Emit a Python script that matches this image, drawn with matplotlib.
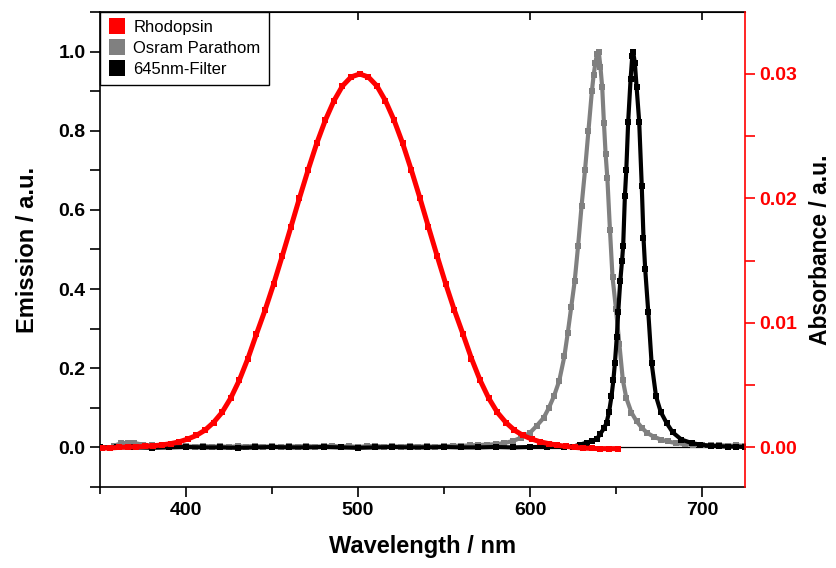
import numpy as np
import matplotlib
matplotlib.use('Agg')
import matplotlib.pyplot as plt
from matplotlib.lines import Line2D
from matplotlib.ticker import MultipleLocator, FormatStrFormatter

plt.rcParams['font.family'] = ['Liberation Sans', 'DejaVu Sans']
plt.rcParams['font.weight'] = 'bold'

# Rhodopsin absorbance (right axis), 351..651 nm every 5 nm
rhodo_nm = np.arange(351, 652, 5)
rhodo_abs = [-0.00006, -0.00004, 0.00000, 0.00003, 0.00005, 0.00008, 0.00013, 0.00020,
             0.00030, 0.00045, 0.00067, 0.00096, 0.00138, 0.00200, 0.00282, 0.00396,
             0.00540, 0.00714, 0.00912, 0.01104, 0.01314, 0.01539, 0.01770, 0.02004,
             0.02229, 0.02442, 0.02628, 0.02784, 0.02904, 0.02976, 0.03000,
             0.02976, 0.02904, 0.02784, 0.02628, 0.02442, 0.02229, 0.02004, 0.01770,
             0.01539, 0.01314, 0.01104, 0.00912, 0.00714, 0.00540, 0.00396, 0.00282,
             0.00200, 0.00138, 0.00096, 0.00067, 0.00045, 0.00030, 0.00018, 0.00008,
             0.00000, -0.00005, -0.00008, -0.00010, -0.00010, -0.00010]

# Osram Parathom emission (left axis)
osram_nm = [358, 362, 366, 370, 375, 380, 385, 390, 395, 400, 405, 410, 415, 420, 425,
            430, 435, 440, 445, 450, 455, 460, 465, 470, 475, 480, 485, 490, 495, 500,
            505, 510, 515, 520, 525, 530, 535, 540, 545, 550, 555, 560, 565, 570, 575,
            580, 585, 590, 595, 600, 604, 608, 611, 614, 617, 620, 622, 624, 626, 628,
            630, 632, 634, 636, 637, 638, 639, 640, 641, 642, 643, 644, 645, 646.5, 648,
            650, 652, 654, 656, 659, 662, 665, 668, 672, 676, 680, 685, 690, 695, 700,
            705, 710, 715, 720, 725]
osram_em = [0.004, 0.010, 0.012, 0.011, 0.007, 0.005, 0.004, 0.002, 0.004, 0.003, 0.002,
            0.004, 0.002, 0.003, 0.001, 0.003, 0.002, 0.004, 0.002, 0.003, 0.001, 0.003,
            0.002, 0.004, 0.002, 0.003, 0.004, 0.002, 0.003, 0.001, 0.003, 0.004, 0.002,
            0.003, 0.002, 0.004, 0.002, 0.003, 0.002, 0.003, 0.004, 0.004, 0.005, 0.006,
            0.007, 0.008, 0.011, 0.016, 0.025, 0.037, 0.055, 0.075, 0.100, 0.130, 0.168,
            0.23, 0.29, 0.355, 0.42, 0.51, 0.61, 0.70, 0.80, 0.90, 0.94, 0.97, 0.995, 1.0,
            0.96, 0.91, 0.82, 0.74, 0.68, 0.55, 0.43, 0.35, 0.26, 0.17, 0.125, 0.088,
            0.066, 0.050, 0.037, 0.027, 0.020, 0.015, 0.011, 0.008, 0.007, 0.006, 0.005,
            0.006, 0.004, 0.005, 0.004]

# 645nm-Filter emission (left axis)
filter_nm = [350, 360, 370, 380, 390, 400, 410, 420, 430, 440, 450, 460, 470, 480, 490,
             500, 510, 520, 530, 540, 550, 560, 570, 580, 590, 600, 610, 620, 625, 629,
             633, 636, 639, 641, 643, 644.5, 646, 647.4, 648.5, 649.4, 650.5, 651.3,
             652.5, 653.5, 654.2, 655.2, 656, 657.1, 658.5, 659.5, 660, 661, 662, 663.5,
             665, 666, 667, 668.8, 670.7, 673.3, 676, 679.4, 683, 688, 694, 699, 705,
             710, 715, 720, 725]
filter_em = [0.000, 0.001, 0.000, -0.001, 0.000, 0.001, 0.000, 0.000, -0.001, 0.000,
             0.001, 0.000, 0.000, 0.001, 0.000, -0.001, 0.000, 0.001, 0.000, 0.000,
             0.001, 0.000, 0.000, 0.001, 0.000, 0.001, 0.001, 0.001, 0.002, 0.007,
             0.012, 0.016, 0.022, 0.035, 0.048, 0.062, 0.090, 0.129, 0.170, 0.214,
             0.280, 0.341, 0.420, 0.470, 0.510, 0.636, 0.700, 0.823, 0.930, 0.990,
             1.000, 0.970, 0.910, 0.823, 0.660, 0.530, 0.450, 0.341, 0.214, 0.129,
             0.090, 0.062, 0.038, 0.020, 0.011, 0.007, 0.004, 0.003, 0.002, 0.002, 0.001]

labels = ['Rhodopsin', 'Osram Parathom', '645nm-Filter']
colors = ['#ff0000', '#808080', '#000000']

fig = plt.figure(figsize=(8.36, 5.68), dpi=100)
ax = fig.add_axes([0.1196, 0.1426, 0.7715, 0.8363])
ax2 = ax.twinx()

ax.axhline(0, color='black', lw=0.9, zorder=1)
ax.plot(osram_nm, osram_em, color=colors[1], lw=3.0, marker='s', ms=4.0,
        markeredgewidth=0, zorder=2)
ax.plot(filter_nm, filter_em, color=colors[2], lw=3.0, marker='s', ms=4.0,
        markeredgewidth=0, zorder=3)
ax2.plot(rhodo_nm, rhodo_abs, color=colors[0], lw=3.6, marker='s', ms=4.4,
         markeredgewidth=0)

# left / bottom axes
ax.set_xlim(350, 725)
ax.set_ylim(-0.1, 1.1)
ax.xaxis.set_major_locator(MultipleLocator(100))
ax.xaxis.set_minor_locator(MultipleLocator(50))
ax.yaxis.set_major_locator(MultipleLocator(0.2))
ax.yaxis.set_minor_locator(MultipleLocator(0.1))
ax.yaxis.set_major_formatter(FormatStrFormatter('%.1f'))
ax.tick_params(which='major', direction='out', length=7, width=1.2, labelsize=14)
ax.tick_params(which='minor', direction='out', length=5, width=1.2)
ax.tick_params(axis='y', which='minor', length=7)
ax.spines['right'].set_visible(False)
for s in ['left', 'bottom', 'top']:
    ax.spines[s].set_linewidth(1.2)
ax.set_xlabel('Wavelength / nm', fontsize=17, fontweight='bold', labelpad=12)
ax.set_ylabel('Emission / a.u.', fontsize=17, fontweight='bold', labelpad=14)

top = ax.secondary_xaxis('top')
top.set_xticks([400, 500, 600, 700])
top.tick_params(direction='in', length=6, width=1.2, labeltop=False)

# right axis (absorbance, red)
ax2.set_ylim(-0.1 * 0.0318, 1.1 * 0.0318)
ax2.yaxis.set_major_locator(MultipleLocator(0.01))
ax2.yaxis.set_minor_locator(MultipleLocator(0.005))
ax2.yaxis.set_major_formatter(FormatStrFormatter('%.2f'))
ax2.tick_params(axis='y', which='both', colors='red', direction='out', width=1.2, labelsize=14)
ax2.tick_params(axis='y', which='major', length=7)
ax2.tick_params(axis='y', which='minor', length=7)
ax2.spines['right'].set_color('red')
ax2.spines['right'].set_linewidth(1.2)
for s in ['left', 'bottom', 'top']:
    ax2.spines[s].set_visible(False)
ax2.set_ylabel('Absorbance / a.u.', fontsize=16.5, fontweight='bold', color='black',
               labelpad=8)

handles = [Line2D([], [], ls='none', marker='s', ms=12, color=c, markeredgewidth=0)
           for c in colors]
leg = ax2.legend(handles, labels, loc='upper left', borderaxespad=0, fancybox=False,
                 framealpha=1, edgecolor='black', prop={'size': 12, 'weight': 'normal'},
                 handletextpad=0.5, handlelength=1.0, borderpad=0.5, labelspacing=0.35)
leg.get_frame().set_linewidth(1.0)

fig.savefig('out.png', dpi=100)
